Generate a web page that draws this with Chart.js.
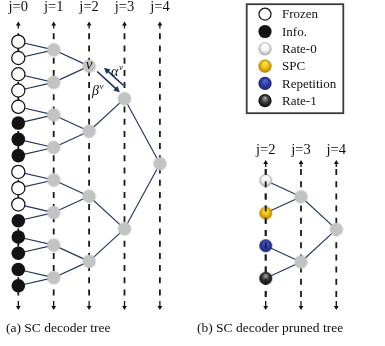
<!DOCTYPE html>
<html>
<head>
<meta charset="utf-8">
<script src="https://cdn.jsdelivr.net/npm/chart.js@4/dist/chart.umd.min.js"></script>
<style>
  html, body { margin: 0; padding: 0; background: #fff; }
  #wrap { width: 385px; height: 346px; }
</style>
</head>
<body>
<div id="wrap"><canvas id="c" width="385" height="346"></canvas></div>
<script>
// Decoding stages shown in each tree
const fullStages = [0, 1, 2, 3, 4];
const prunedStages = [2, 3, 4];
// Leaf kinds of the full tree, top to bottom (F = frozen bit, I = information bit)
const leafKinds = ['F', 'F', 'F', 'F', 'F', 'I', 'I', 'I', 'F', 'F', 'F', 'I', 'I', 'I', 'I', 'I'];
// Special constituent nodes at the lowest stage of the pruned tree, top to bottom
const prunedKinds = ['rate0', 'spc', 'rep', 'rate1'];
// Node v whose messages alpha/beta are drawn
const messageNode = { j: 2, k: 0 };
// Legend entries
const legendKinds = ['frozen', 'info', 'rate0', 'spc', 'rep', 'rate1'];
const legendLabels = ['Frozen', 'Info.', 'Rate-0', 'SPC', 'Repetition', 'Rate-1'];
const captions = ['(a) SC decoder tree', '(b) SC decoder pruned tree'];

const SERIF = '"Liberation Serif", "Times New Roman", serif';
const EDGE = '#22375c';
const INK = '#111111';

// vertical position of node k at stage j, in units of the tree's lowest-stage slots
function nodePos(j, k, base) {
  const span = Math.pow(2, j - base);
  return k * span + (span - 1) / 2;
}

// paint a ball of a given kind
function paintBall(c, kind, cx, cy, r) {
  c.save();
  if (kind === 'frozen') {
    c.beginPath(); c.arc(cx, cy, r - 0.6, 0, Math.PI * 2);
    c.fillStyle = '#ffffff'; c.fill();
    c.lineWidth = 1.2; c.strokeStyle = INK; c.stroke();
  } else if (kind === 'info') {
    c.beginPath(); c.arc(cx, cy, r, 0, Math.PI * 2);
    c.fillStyle = '#131313'; c.fill();
  } else if (kind === 'node') {
    const g = c.createRadialGradient(cx, cy, 0, cx, cy, r + 1);
    g.addColorStop(0, '#c3c3c3');
    g.addColorStop(0.78, '#c3c3c3');
    g.addColorStop(1, 'rgba(195,195,195,0)');
    c.beginPath(); c.arc(cx, cy, r + 1, 0, Math.PI * 2);
    c.fillStyle = g; c.fill();
  } else {
    const stops = {
      rate0: ['#ffffff', '#f7f7f7', '#a9a9a9'],
      spc:   ['#ffe680', '#f2c00c', '#b38100'],
      rep:   ['#5a6ad0', '#3040aa', '#1b2272'],
      rate1: ['#a8a8a8', '#3e3e3e', '#070707']
    }[kind];
    const g = c.createRadialGradient(cx, cy - 0.45 * r, 0.3, cx, cy, r);
    g.addColorStop(0, stops[0]);
    g.addColorStop(0.5, stops[1]);
    g.addColorStop(1, stops[2]);
    c.beginPath(); c.arc(cx, cy, r, 0, Math.PI * 2);
    c.fillStyle = g; c.fill();
  }
  c.restore();
}

function ballImage(kind, r) {
  const s = Math.ceil(2 * r + 4);
  const cv = document.createElement('canvas');
  cv.width = s; cv.height = s;
  paintBall(cv.getContext('2d'), kind, s / 2, s / 2, r);
  return cv;
}

const nodeImg = ballImage('node', 6.5);

// ---- build datasets ----
const datasets = [];

// edges of the full tree (the v -> parent link is drawn as message arrows)
for (let j = 1; j < fullStages.length; j++) {
  const n = leafKinds.length >> j;
  for (let k = 0; k < n; k++) {
    for (const ck of [2 * k, 2 * k + 1]) {
      if (j - 1 === messageNode.j && ck === messageNode.k) continue;
      datasets.push({
        type: 'scatter', showLine: true, order: 10,
        borderColor: EDGE, borderWidth: 1.15, pointRadius: 0,
        data: [{ x: j, y: nodePos(j, k, 0) }, { x: j - 1, y: nodePos(j - 1, ck, 0) }]
      });
    }
  }
}
// edges of the pruned tree
const pBase = prunedStages[0];
for (let j = pBase + 1; j <= prunedStages[prunedStages.length - 1]; j++) {
  const n = prunedKinds.length >> (j - pBase);
  for (let k = 0; k < n; k++) {
    for (const ck of [2 * k, 2 * k + 1]) {
      datasets.push({
        type: 'scatter', showLine: true, order: 10, xAxisID: 'x2', yAxisID: 'y2',
        borderColor: EDGE, borderWidth: 1.15, pointRadius: 0,
        data: [{ x: j, y: nodePos(j, k, pBase) }, { x: j - 1, y: nodePos(j - 1, ck, pBase) }]
      });
    }
  }
}

// leaves
datasets.push({
  order: 1, pointRadius: 6.6, pointBorderWidth: 1.2,
  pointBackgroundColor: '#ffffff', pointBorderColor: INK,
  data: leafKinds.map((t, i) => t === 'F' ? { x: 0, y: i } : null).filter(Boolean)
});
datasets.push({
  order: 1, pointRadius: 6.8, pointBorderWidth: 0,
  pointBackgroundColor: '#131313', pointBorderColor: '#131313',
  data: leafKinds.map((t, i) => t === 'I' ? { x: 0, y: i } : null).filter(Boolean)
});

// internal nodes of the full tree
const fullInner = [];
for (let j = 1; j < fullStages.length; j++) {
  const n = leafKinds.length >> j;
  for (let k = 0; k < n; k++) fullInner.push({ x: j, y: nodePos(j, k, 0) });
}
datasets.push({ order: 2, pointStyle: nodeImg, pointRadius: 6.5, data: fullInner });

// internal nodes of the pruned tree
const prunedInner = [];
for (let j = pBase + 1; j <= prunedStages[prunedStages.length - 1]; j++) {
  const n = prunedKinds.length >> (j - pBase);
  for (let k = 0; k < n; k++) prunedInner.push({ x: j, y: nodePos(j, k, pBase) });
}
datasets.push({ order: 2, xAxisID: 'x2', yAxisID: 'y2', pointStyle: nodeImg, pointRadius: 6.5, data: prunedInner });

// special nodes of the pruned tree
datasets.push({
  order: 2, xAxisID: 'x2', yAxisID: 'y2', pointRadius: 6.5,
  pointStyle: prunedKinds.map(kd => ballImage(kd, 6.5)),
  data: prunedKinds.map((kd, k) => ({ x: pBase, y: k }))
});

// ---- drawing helpers ----
function arrowHead(ctx, tx, ty, ux, uy, len, half) {
  ctx.beginPath();
  ctx.moveTo(tx, ty);
  ctx.lineTo(tx - ux * len - uy * half, ty - uy * len + ux * half);
  ctx.lineTo(tx - ux * len + uy * half, ty - uy * len - ux * half);
  ctx.closePath();
  ctx.fill();
}

function dashedGuide(ctx, x, dashTop, dashBottom) {
  ctx.save();
  ctx.strokeStyle = '#1a1a1a';
  ctx.lineWidth = 1.8;
  ctx.setLineDash([6, 6.2]);
  ctx.beginPath(); ctx.moveTo(x, dashTop); ctx.lineTo(x, dashBottom); ctx.stroke();
  ctx.restore();
}

function guide(ctx, x, tipTop, dashTop, dashBottom, tipBottom) {
  ctx.save();
  ctx.strokeStyle = INK; ctx.fillStyle = INK; ctx.lineWidth = 1.3;
  ctx.beginPath(); ctx.moveTo(x, tipTop + 3); ctx.lineTo(x, tipTop + 7); ctx.stroke();
  arrowHead(ctx, x, tipTop, 0, -1, 4, 2.4);
  ctx.beginPath(); ctx.moveTo(x, tipBottom - 9); ctx.lineTo(x, tipBottom - 3); ctx.stroke();
  arrowHead(ctx, x, tipBottom, 0, 1, 4, 2.4);
  ctx.restore();
  dashedGuide(ctx, x, dashTop, dashBottom);
}

const GUIDE_FULL = { tipTop: 21.5, dashTop: 33.3, dashBottom: 296, tipBottom: 310 };
const GUIDE_PRUNED = { tipTop: 160, dashTop: 169, dashBottom: 300, tipBottom: 310 };

function superscripted(ctx, base, sup, x, y) {
  ctx.font = 'italic 14px ' + SERIF;
  ctx.textAlign = 'left';
  ctx.fillText(base, x, y);
  const w = ctx.measureText(base).width;
  ctx.font = 'italic 9px ' + SERIF;
  ctx.fillText(sup, x + w + 0.5, y - 5.5);
}

const diagram = {
  id: 'diagram',
  beforeDatasetsDraw(chart) {
    const ctx = chart.ctx;
    const sx = chart.scales.x, sx2 = chart.scales.x2;
    fullStages.forEach(j => {
      const g = GUIDE_FULL;
      guide(ctx, sx.getPixelForValue(j), g.tipTop, g.dashTop, g.dashBottom, g.tipBottom);
    });
    prunedStages.forEach(j => {
      const g = GUIDE_PRUNED;
      guide(ctx, sx2.getPixelForValue(j), g.tipTop, g.dashTop, g.dashBottom, g.tipBottom);
    });
    ctx.save();
    ctx.fillStyle = INK;
    ctx.font = '14.5px ' + SERIF;
    ctx.textAlign = 'center';
    ctx.textBaseline = 'alphabetic';
    fullStages.forEach(j => ctx.fillText('j=' + j, sx.getPixelForValue(j), 10.8));
    prunedStages.forEach(j => ctx.fillText('j=' + j, sx2.getPixelForValue(j), 154));
    ctx.restore();
  },
  afterDatasetsDraw(chart) {
    const ctx = chart.ctx;
    const sx = chart.scales.x, sy = chart.scales.y, sx2 = chart.scales.x2;

    // stage line of the special nodes stays visible across them
    dashedGuide(ctx, sx2.getPixelForValue(pBase), GUIDE_PRUNED.dashTop, GUIDE_PRUNED.dashBottom);

    // messages between node v and its parent
    const ax = sx.getPixelForValue(messageNode.j);
    const ay = sy.getPixelForValue(nodePos(messageNode.j, messageNode.k, 0));
    const bx = sx.getPixelForValue(messageNode.j + 1);
    const by = sy.getPixelForValue(nodePos(messageNode.j + 1, messageNode.k >> 1, 0));
    const len = Math.hypot(bx - ax, by - ay);
    const ux = (bx - ax) / len, uy = (by - ay) / len;
    const nx = uy, ny = -ux;
    ctx.save();
    ctx.strokeStyle = '#1b3160'; ctx.fillStyle = '#1b3160'; ctx.lineWidth = 1.6;
    // alpha: parent -> v
    let o = 9, t0 = 0.25 * len, t1 = 0.8 * len;
    let p0x = ax + ux * t0 + nx * o, p0y = ay + uy * t0 + ny * o;
    let p1x = ax + ux * t1 + nx * o, p1y = ay + uy * t1 + ny * o;
    ctx.beginPath(); ctx.moveTo(p1x, p1y); ctx.lineTo(p0x + ux * 4, p0y + uy * 4); ctx.stroke();
    arrowHead(ctx, p0x, p0y, -ux, -uy, 6, 3);
    // beta: v -> parent
    o = 1.5; t0 = 0.2 * len; t1 = 0.84 * len;
    p0x = ax + ux * t0 + nx * o; p0y = ay + uy * t0 + ny * o;
    p1x = ax + ux * t1 + nx * o; p1y = ay + uy * t1 + ny * o;
    ctx.beginPath(); ctx.moveTo(p0x, p0y); ctx.lineTo(p1x - ux * 4, p1y - uy * 4); ctx.stroke();
    arrowHead(ctx, p1x, p1y, ux, uy, 6, 3);

    ctx.fillStyle = INK;
    ctx.textBaseline = 'alphabetic';
    ctx.font = 'italic 15px ' + SERIF;
    ctx.textAlign = 'center';
    ctx.fillText('v', ax, ay + 3);
    superscripted(ctx, 'α', 'v', ax + 22, ay + 9.5);
    superscripted(ctx, 'β', 'v', ax + 3, ay + 28.5);
    ctx.restore();

    // legend
    ctx.save();
    ctx.strokeStyle = '#3a3a3a'; ctx.lineWidth = 1.8;
    ctx.strokeRect(246.7, 4.2, 96.6, 109);
    ctx.fillStyle = INK;
    ctx.font = '13px ' + SERIF;
    ctx.textAlign = 'left';
    ctx.textBaseline = 'middle';
    legendKinds.forEach((kd, i) => {
      const cy = 14.2 + i * 17.3;
      paintBall(ctx, kd, 265, cy, 6.6);
      ctx.fillStyle = INK;
      ctx.fillText(legendLabels[i], 282, cy + 0.8);
    });
    ctx.restore();

    // captions
    ctx.save();
    ctx.fillStyle = INK;
    ctx.font = '13.5px ' + SERIF;
    ctx.textAlign = 'left';
    ctx.textBaseline = 'alphabetic';
    ctx.fillText(captions[0], 6, 332);
    ctx.fillText(captions[1], 197, 332);
    ctx.restore();
  }
};

new Chart(document.getElementById('c').getContext('2d'), {
  type: 'scatter',
  data: { datasets },
  options: {
    responsive: false,
    animation: false,
    events: [],
    layout: { padding: 0, autoPadding: false },
    plugins: { legend: { display: false }, tooltip: { enabled: false } },
    scales: {
      x:  { type: 'linear', display: false, min: -0.517, max: 10.359 },
      y:  { type: 'linear', display: false, reverse: true, min: -2.563, max: 18.70 },
      x2: { type: 'linear', display: false, min: -5.527, max: 5.38 },
      y2: { type: 'linear', display: false, reverse: true, min: -5.537, max: 5.077 }
    }
  },
  plugins: [diagram]
});
</script>
</body>
</html>
